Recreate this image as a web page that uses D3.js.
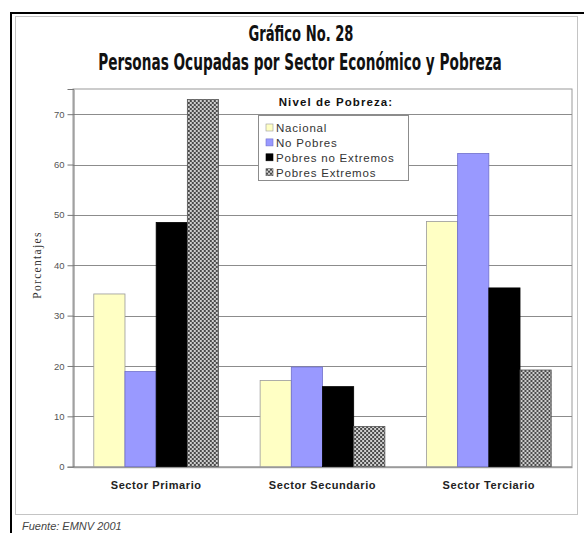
<!DOCTYPE html>
<html>
<head>
<meta charset="utf-8">
<script src="https://cdn.jsdelivr.net/npm/d3@7"></script>
<style>
html,body{margin:0;padding:0;background:#fff;}
svg{display:block;}
</style>
</head>
<body>
<svg id="chart" width="584" height="533"></svg>
<script>
const titleLines = ["Gráfico No. 28", "Personas Ocupadas por Sector Económico y Pobreza"];
const categories = ["Sector Primario", "Sector Secundario", "Sector Terciario"];
const seriesNames = ["Nacional", "No Pobres", "Pobres no Extremos", "Pobres Extremos"];
const nacional = [34.3, 17.1, 48.7];
const noPobres = [18.9, 19.8, 62.2];
const pobresNoExtremos = [48.5, 15.9, 35.5];
const pobresExtremos = [72.9, 8.0, 19.2];
const yTicks = [0, 10, 20, 30, 40, 50, 60, 70];
const legendTitle = "Nivel de Pobreza:";
const yLabel = "Porcentajes";
const sourceNote = "Fuente: EMNV 2001";

(function () {
const seriesValues = [nacional, noPobres, pobresNoExtremos, pobresExtremos];
const fills = ["#FFFFC4", "#9999FF", "#000000", "url(#hatch)"];
const strokes = ["#9a9a9a", "#7070cc", "#000000", "#555555"];

const svg = d3.select("#chart");
const defs = svg.append("defs");
const pat = defs.append("pattern").attr("id", "hatch").attr("patternUnits", "userSpaceOnUse")
  .attr("width", 4).attr("height", 4);
pat.append("rect").attr("width", 4).attr("height", 4).attr("fill", "#cfcfcf");
pat.append("rect").attr("width", 2).attr("height", 2).attr("fill", "#4a4a4a");
pat.append("rect").attr("x", 2).attr("y", 2).attr("width", 2).attr("height", 2).attr("fill", "#4a4a4a");

// frames
svg.append("rect").attr("x", 15.5).attr("y", 16.5).attr("width", 562).attr("height", 498)
  .attr("fill", "none").attr("stroke", "#c4c4c4").attr("stroke-width", 1);
svg.append("rect").attr("x", 11).attr("y", 13).attr("width", 580).attr("height", 540)
  .attr("fill", "none").attr("stroke", "#000").attr("stroke-width", 2);

// titles: tall condensed look, horizontally squeezed to the reference widths
const tf = "'Liberation Sans Narrow','DejaVu Sans Condensed',sans-serif";
function fitTitle(txt, cx, cy, width, size) {
  const g = svg.append("g").attr("transform", `translate(${cx},${cy})`);
  const t = g.append("text").attr("x", 0).attr("y", 0).attr("text-anchor", "middle")
    .attr("font-family", tf).attr("font-weight", "bold").attr("font-size", size)
    .attr("fill", "#111").text(txt);
  const w = t.node().getComputedTextLength();
  if (w > 0) g.attr("transform", `translate(${cx},${cy}) scale(${(width / w).toFixed(3)},1)`);
}
fitTitle(titleLines[0], 301, 41, 105, 22);
fitTitle(titleLines[1], 300, 70, 404, 23);

// scales
const pLeft = 73, pRight = 572, pTop = 89, pBottom = 466.7;
const y = d3.scaleLinear().domain([0, 75]).range([pBottom, pTop]);
const x0 = d3.scaleBand().domain(categories).range([pLeft, pRight]).paddingInner(0.25).paddingOuter(0.125);
const x1 = d3.scaleBand().domain(seriesNames).range([0, x0.bandwidth()]).padding(0);

// plot area border
svg.append("rect").attr("x", pLeft).attr("y", pTop).attr("width", pRight - pLeft).attr("height", pBottom - pTop)
  .attr("fill", "#fff").attr("stroke", "#9a9a9a").attr("stroke-width", 1);

// gridlines
svg.append("g").selectAll("line").data(yTicks.filter(d => d > 0)).join("line")
  .attr("x1", pLeft).attr("x2", pRight)
  .attr("y1", d => Math.round(y(d)) + 0.5).attr("y2", d => Math.round(y(d)) + 0.5)
  .attr("stroke", "#8c8c8c").attr("stroke-width", 1);

// bars
const groups = svg.append("g").selectAll("g").data(categories).join("g")
  .attr("transform", d => `translate(${x0(d)},0)`);
groups.selectAll("rect").data((c, ci) => seriesNames.map((s, si) => ({s, si, v: seriesValues[si][ci]})))
  .join("rect")
  .attr("x", d => x1(d.s)).attr("width", x1.bandwidth())
  .attr("y", d => y(d.v)).attr("height", d => pBottom - y(d.v))
  .attr("fill", d => fills[d.si]).attr("stroke", d => strokes[d.si]).attr("stroke-width", 0.8);

// y axis
const yAxis = svg.append("g").attr("transform", `translate(${pLeft + 0.5},0)`)
  .call(d3.axisLeft(y).tickValues(yTicks).tickSize(6).tickPadding(3));
yAxis.select(".domain").attr("stroke", "#777");
yAxis.selectAll(".tick line").attr("stroke", "#777");
yAxis.selectAll("text").attr("font-family", "'Liberation Sans',Arial,sans-serif")
  .attr("font-size", 9.5).attr("fill", "#555");

// x axis
const xAxis = svg.append("g").attr("transform", `translate(0,${pBottom + 0.5})`)
  .call(d3.axisBottom(x0).tickSize(0).tickPadding(14));
xAxis.select(".domain").attr("stroke", "#888");
xAxis.selectAll("text").attr("font-family", "'Liberation Sans',Arial,sans-serif")
  .attr("font-weight", "bold").attr("font-size", 11).attr("letter-spacing", 0.6).attr("fill", "#222");

// y label
svg.append("text").attr("transform", "translate(41,265) rotate(-90)").attr("text-anchor", "middle")
  .attr("font-family", "'Liberation Serif','Times New Roman',serif").attr("font-size", 11.5)
  .attr("letter-spacing", 1.3).attr("fill", "#333").text(yLabel);

// legend
svg.append("text").attr("x", 336).attr("y", 106).attr("text-anchor", "middle")
  .attr("font-family", "'Liberation Sans',Arial,sans-serif").attr("font-weight", "bold")
  .attr("font-size", 11.5).attr("letter-spacing", 1.1).attr("fill", "#111").text(legendTitle);
const lg = svg.append("g").attr("transform", "translate(258,115)");
lg.append("rect").attr("x", 0.5).attr("y", 0.5).attr("width", 150).attr("height", 65)
  .attr("fill", "#fff").attr("stroke", "#8c8c8c");
const items = lg.selectAll("g.it").data(seriesNames).join("g").attr("class", "it")
  .attr("transform", (d, i) => `translate(0,${17 + i * 14.9})`);
items.append("rect").attr("x", 8).attr("y", -8).attr("width", 7).attr("height", 7)
  .attr("fill", (d, i) => fills[i]).attr("stroke", (d, i) => strokes[i]).attr("stroke-width", 0.6);
items.append("text").attr("x", 18).attr("y", 0)
  .attr("font-family", "'Liberation Sans',Arial,sans-serif").attr("font-size", 11.5)
  .attr("letter-spacing", 0.8).attr("fill", "#333").text(d => d);

// source
svg.append("text").attr("x", 22).attr("y", 530)
  .attr("font-family", "'Liberation Sans',Arial,sans-serif").attr("font-style", "italic")
  .attr("font-size", 11).attr("fill", "#444").text(sourceNote);
})();
</script>
</body>
</html>
